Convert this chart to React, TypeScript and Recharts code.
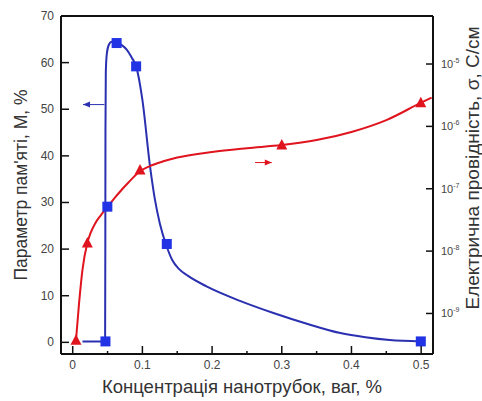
import React from "react";
import { ComposedChart, Line, Scatter, XAxis, YAxis, ReferenceLine, Label } from "recharts";

// memory parameter M, % (left axis) – measured points
const memoryX = [0.047, 0.0497, 0.063, 0.091, 0.135, 0.4995];
const memoryM = [0.2, 29.1, 64.2, 59.2, 21.1, 0.2];

// memory parameter – drawn fit curve
const memoryCurveX = [
  0.014, 0.0465, 0.0468, 0.047, 0.0475, 0.049, 0.052, 0.056, 0.063, 0.07, 0.0775, 0.085, 0.091, 0.1,
  0.111, 0.118, 0.125, 0.135, 0.143, 0.152, 0.165, 0.192, 0.24, 0.288, 0.336, 0.384, 0.42, 0.455, 0.5,
];
const memoryCurveM = [
  0.2, 0.2, 20, 45, 58, 62, 63.9, 64.5, 64.4, 63.8, 62.8, 61, 59.2, 52, 37.7, 30.6, 25.5, 20.5, 17.6,
  15.8, 14.3, 12.0, 8.9, 6.3, 4.0, 2.0, 1.1, 0.5, 0.2,
];

// conductivity sigma, S/cm (right axis, log10) – measured points
const sigmaX = [0.0047, 0.021, 0.0966, 0.3, 0.4995];
const sigmaLog = [-9.43, -7.87, -6.7, -6.3, -5.62];

// conductivity – drawn fit curve
const sigmaCurveX = [
  0.0047, 0.009, 0.014, 0.021, 0.026, 0.032, 0.04, 0.05, 0.06, 0.07, 0.08, 0.0966, 0.11, 0.13, 0.15,
  0.2, 0.25, 0.3, 0.35, 0.4, 0.45, 0.5, 0.515,
];
const sigmaCurveLog = [
  -9.43, -8.85, -8.3, -7.87, -7.7, -7.56, -7.43, -7.29, -7.15, -7.02, -6.9, -6.72, -6.64, -6.56,
  -6.5, -6.41, -6.35, -6.3, -6.22, -6.09, -5.9, -5.62, -5.54,
];

// axis arrows (which curve belongs to which axis)
const leftArrowX = [0.0455, 0.0148];
const leftArrowM = [51, 51];
const rightArrowX = [0.2617, 0.2857];
const rightArrowLog = [-6.58, -6.58];

const xTicks = [0, 0.05, 0.1, 0.15, 0.2, 0.25, 0.3, 0.35, 0.4, 0.45, 0.5];
const xTickLabels = ["0", "", "0.1", "", "0.2", "", "0.3", "", "0.4", "", "0.5"];
const mTicks = [0, 10, 20, 30, 40, 50, 60, 70];
const sigmaTicks = [-9, -8, -7, -6, -5];

const zip = (xs: number[], ys: number[]) => xs.map((x, i) => ({ x, y: ys[i] }));

const memoryPts = zip(memoryX, memoryM);
const memoryCurve = zip(memoryCurveX, memoryCurveM);
const sigmaPts = zip(sigmaX, sigmaLog);
const sigmaCurve = zip(sigmaCurveX, sigmaCurveLog);
const leftArrow = zip(leftArrowX, leftArrowM);
const rightArrow = zip(rightArrowX, rightArrowLog);

const W = 482;
const H = 401;
const LEFT = 61;
const RIGHT = 433;
const BOTTOM = 354;
const FONT = "'Liberation Sans', Arial, sans-serif";
const BLUE = "#2233e6";
const BLUE_LINE = "#2a30b0";
const RED = "#e0141e";

const XTick = (props: any) => {
  const { x, index } = props;
  const label = xTickLabels[index] ?? "";
  const major = label !== "";
  return (
    <g>
      <line x1={x} x2={x} y1={BOTTOM} y2={BOTTOM - (major ? 8 : 3)} stroke="#111" strokeWidth={1.5} />
      {major && (
        <text x={x} y={BOTTOM + 15} textAnchor="middle" fontSize={12} fill="#444" fontFamily={FONT}>
          {label}
        </text>
      )}
    </g>
  );
};

const MTick = (props: any) => {
  const { y, payload } = props;
  return (
    <g>
      <line x1={LEFT} x2={LEFT + 8} y1={y} y2={y} stroke="#111" strokeWidth={1.5} />
      <text x={LEFT - 7} y={y + 4} textAnchor="end" fontSize={12} fill="#444" fontFamily={FONT}>
        {payload.value}
      </text>
    </g>
  );
};

const SigmaTick = (props: any) => {
  const { y, payload } = props;
  return (
    <g>
      <line x1={RIGHT - 7} x2={RIGHT + 1} y1={y} y2={y} stroke="#111" strokeWidth={1.5} />
      <text x={RIGHT + 8} y={y + 4} fontSize={11} fill="#444" fontFamily={FONT}>
        10
        <tspan dy={-5} fontSize={7}>
          {payload.value}
        </tspan>
      </text>
    </g>
  );
};

const square = (p: any) => (
  <rect x={p.cx - 5} y={p.cy - 5} width={10} height={10} fill={BLUE} />
);

const triangle = (p: any) => (
  <polygon
    points={`${p.cx},${p.cy - 6} ${p.cx - 5.5},${p.cy + 4.5} ${p.cx + 5.5},${p.cy + 4.5}`}
    fill={RED}
  />
);

const arrowHead = (color: string, dir: number) => (p: any) =>
  p.index === 1 ? (
    <polygon
      key={p.index}
      points={`${p.cx},${p.cy} ${p.cx + 7 * dir},${p.cy - 3} ${p.cx + 7 * dir},${p.cy + 3}`}
      fill={color}
    />
  ) : (
    <g key={p.index} />
  );

export default function App() {
  return (
    <div style={{ position: "absolute", left: 0, top: 0, width: W, height: H, background: "#fff" }}>
      <ComposedChart width={W} height={H} margin={{ top: 16, right: 0, bottom: 17, left: 16 }}>
        <XAxis
          type="number"
          dataKey="x"
          domain={[-0.0168, 0.517]}
          ticks={xTicks}
          allowDataOverflow
          height={30}
          axisLine={{ stroke: "#111", strokeWidth: 2 }}
          tickLine={false}
          tick={<XTick />}
          interval={0}
        >
          <Label
            content={() => (
              <text x={242} y={393} textAnchor="middle" fontSize={18.5} fill="#333" fontFamily={FONT}>
                Концентрація нанотрубок, ваг, %
              </text>
            )}
          />
        </XAxis>
        <YAxis
          yAxisId="left"
          type="number"
          dataKey="y"
          domain={[-2.5, 70]}
          ticks={mTicks}
          allowDataOverflow
          width={45}
          axisLine={{ stroke: "#111", strokeWidth: 2 }}
          tickLine={false}
          tick={<MTick />}
          interval={0}
        >
          <Label
            content={() => (
              <text
                x={27}
                y={185}
                textAnchor="middle"
                fontSize={17.5}
                fill="#333"
                fontFamily={FONT}
                transform="rotate(-90 27 185)"
              >
                Параметр пам'яті, М, %
              </text>
            )}
          />
        </YAxis>
        <YAxis
          yAxisId="right"
          orientation="right"
          type="number"
          dataKey="y"
          domain={[-9.65, -4.23]}
          ticks={sigmaTicks}
          allowDataOverflow
          width={49}
          axisLine={{ stroke: "#111", strokeWidth: 2 }}
          tickLine={false}
          tick={<SigmaTick />}
          interval={0}
        >
          <Label
            content={() => (
              <text
                x={479}
                y={168}
                textAnchor="middle"
                fontSize={19}
                fill="#333"
                fontFamily={FONT}
                transform="rotate(-90 479 168)"
              >
                Електрична провідність, σ, С/см
              </text>
            )}
          />
        </YAxis>

        <ReferenceLine yAxisId="left" y={70} stroke="#111" strokeWidth={2} />

        <Line
          data={memoryCurve}
          dataKey="y"
          yAxisId="left"
          type="monotone"
          stroke={BLUE_LINE}
          strokeWidth={2}
          dot={false}
          isAnimationActive={false}
        />
        <Line
          data={sigmaCurve}
          dataKey="y"
          yAxisId="right"
          type="monotone"
          stroke={RED}
          strokeWidth={2}
          dot={false}
          isAnimationActive={false}
        />
        <Line
          data={leftArrow}
          dataKey="y"
          yAxisId="left"
          type="linear"
          stroke={BLUE_LINE}
          strokeWidth={1}
          dot={arrowHead(BLUE_LINE, 1)}
          isAnimationActive={false}
        />
        <Line
          data={rightArrow}
          dataKey="y"
          yAxisId="right"
          type="linear"
          stroke={RED}
          strokeWidth={1}
          dot={arrowHead(RED, -1)}
          isAnimationActive={false}
        />
        <Scatter data={memoryPts} dataKey="y" yAxisId="left" shape={square} isAnimationActive={false} />
        <Scatter data={sigmaPts} dataKey="y" yAxisId="right" shape={triangle} isAnimationActive={false} />
      </ComposedChart>
    </div>
  );
}
